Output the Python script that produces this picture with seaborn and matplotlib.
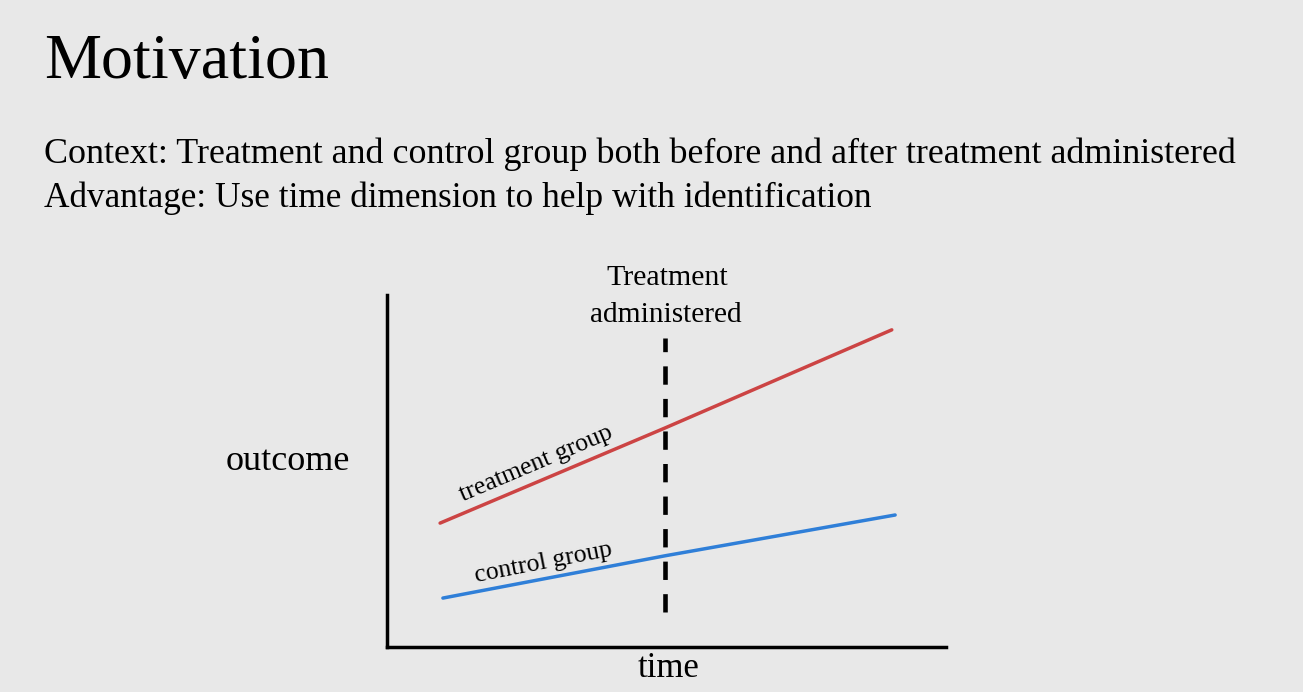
import matplotlib
matplotlib.use("Agg")
import matplotlib.pyplot as plt
import seaborn as sns
import pandas as pd

# ---- data ----
time_treat = [0.95, 4.97, 9.03]
outcome_treat = [3.52, 6.22, 9.01]
time_ctrl = [1.00, 4.97, 9.09]
outcome_ctrl = [1.39, 2.59, 3.75]
treat_time = 4.97
dash_range = [0.99, 8.78]

title = "Motivation"
body_lines = ["Context: Treatment and control group both before and after treatment administered",
              "Advantage: Use time dimension to help with identification"]
treat_label = ["Treatment", "administered"]
ylab = "outcome"
xlab = "time"
group_labels = ["treatment group", "control group"]

BG = "#e8e8e8"
RED = "#cc4444"
BLUE = "#2f7fd8"
FONT = "Liberation Serif"

sns.set_theme(style="white")
plt.rcParams["font.family"] = [FONT, "DejaVu Serif"]

W, H = 1303, 692
fig = plt.figure(figsize=(W / 100, H / 100), dpi=100, facecolor=BG)

# axes placed in pixel coordinates
ax_l, ax_r, ax_t, ax_b = 387, 946, 295, 647
ax = fig.add_axes([ax_l / W, (H - ax_b) / H, (ax_r - ax_l) / W, (ax_b - ax_t) / H])
ax.set_facecolor(BG)
ax.set_xlim(0, 10)
ax.set_ylim(0, 10)

df = pd.concat([
    pd.DataFrame({"time": time_treat, "outcome": outcome_treat, "group": "treatment"}),
    pd.DataFrame({"time": time_ctrl, "outcome": outcome_ctrl, "group": "control"}),
])
sns.lineplot(data=df, x="time", y="outcome", hue="group",
             palette={"treatment": RED, "control": BLUE}, linewidth=2.5,
             legend=False, ax=ax)
ax.plot([treat_time, treat_time], dash_range, color="black",
        linestyle=(0, (4, 3.1)), linewidth=3.3, solid_capstyle="butt", dash_capstyle="butt")

for s in ["top", "right"]:
    ax.spines[s].set_visible(False)
for s in ["left", "bottom"]:
    ax.spines[s].set_color("black")
    ax.spines[s].set_linewidth(2.5)
ax.set_xticks([])
ax.set_yticks([])
ax.set_xlabel("")
ax.set_ylabel("")

renderer = fig.canvas.get_renderer()


def ptext(x, y, s, target_w=None, size=20, ha="left", **kw):
    t = fig.text(x / W, 1 - y / H, s, ha=ha, va="baseline", fontsize=size, color="black", **kw)
    if target_w is not None:
        w = t.get_window_extent(renderer).width
        t.set_fontsize(size * target_w / w)
    return t


ptext(44, 78, title, target_w=285, size=46)
ptext(44, 163, body_lines[0], target_w=1196, size=24)
ptext(44, 207, body_lines[1], target_w=829, size=24)
ptext(667, 285, treat_label[0], target_w=122, size=18, ha="center")
ptext(666, 322, treat_label[1], target_w=152, size=18, ha="center")
ptext(288, 470, ylab, target_w=124, size=20, ha="center")
ptext(669, 677, xlab, target_w=62, size=20, ha="center")

fig.text(539 / W, 1 - 469 / H, group_labels[0], rotation=23, rotation_mode="anchor",
         ha="center", va="baseline", fontsize=18.5, color="black")
fig.text(545 / W, 1 - 569 / H, group_labels[1], rotation=11, rotation_mode="anchor",
         ha="center", va="baseline", fontsize=18.5, color="black")

fig.savefig("out.png", dpi=100, facecolor=BG)
